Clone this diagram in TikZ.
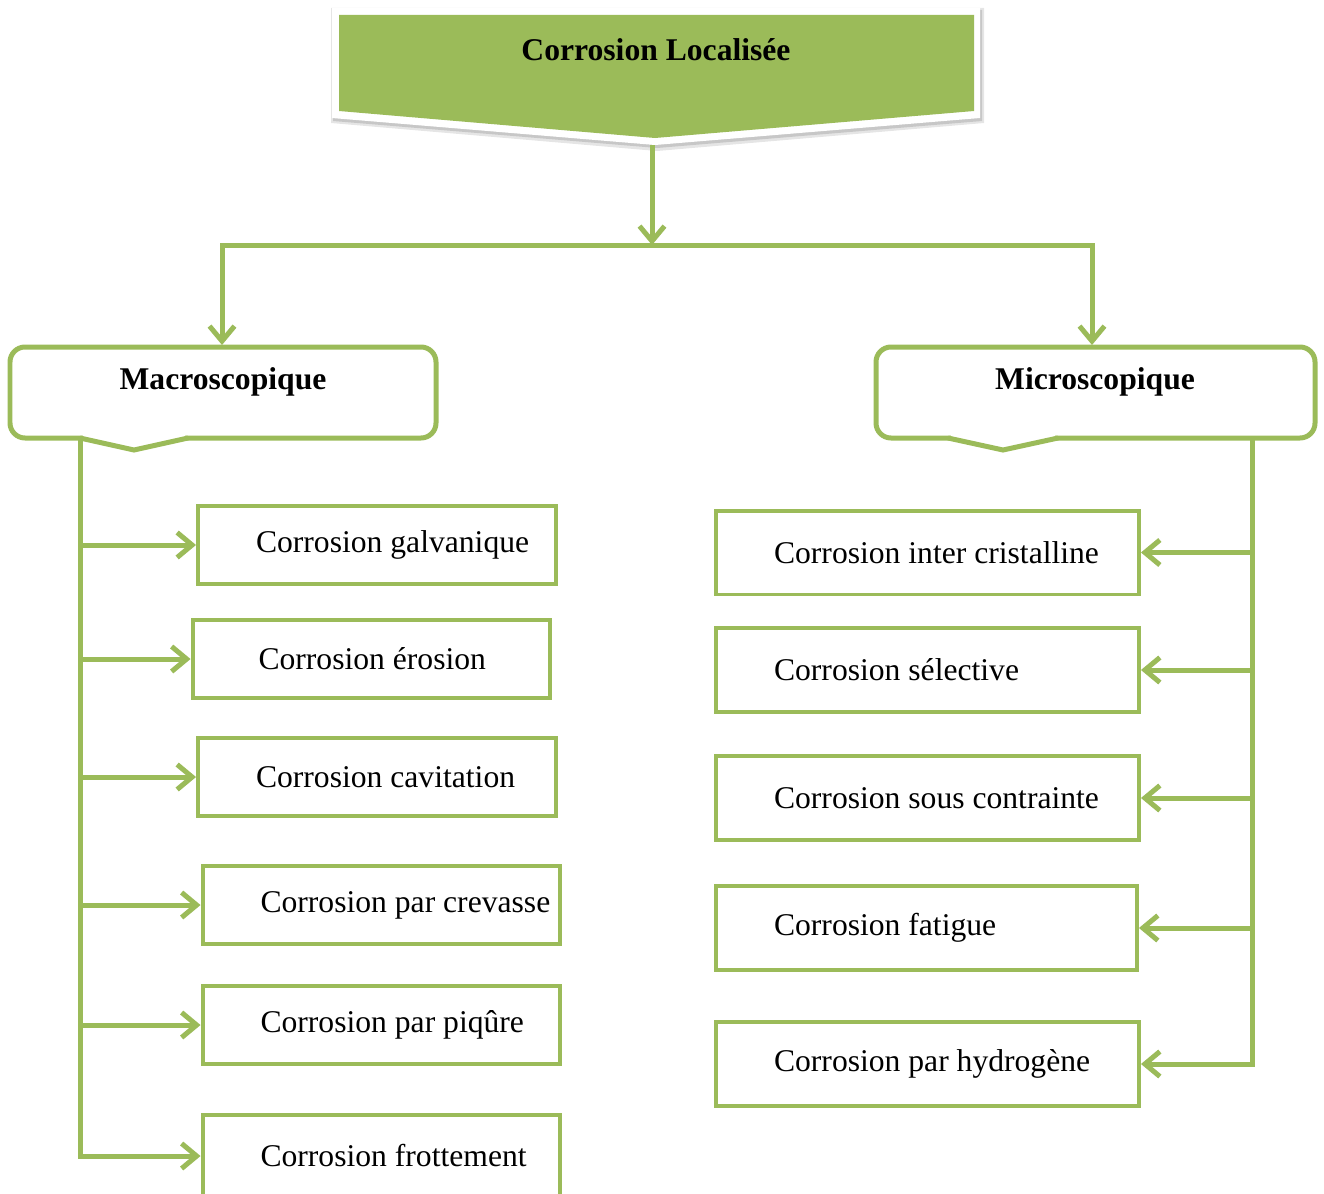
\documentclass[tikz,border=0pt]{standalone}
\usepackage{fontspec}
\setmainfont{Liberation Serif}
\usepackage{tikz}
\usetikzlibrary{arrows.meta}

\definecolor{leafgreen}{HTML}{9BBB59}

\newcommand{\boxtext}[3][1.16cm]{\makebox[#2][l]{\hspace{#1}#3}}

\tikzset{
  link/.style={draw=leafgreen, line width=0.1cm},
  arr/.style={-{Straight Barb[length=0.3cm, width=0.5cm]}},
  leaf/.style={draw=leafgreen, line width=0.08cm, inner sep=0pt, font=\fontsize{18}{22}\selectfont},
  head/.style={font=\fontsize{18}{22}\selectfont\bfseries},
}

\begin{document}
\begin{tikzpicture}[x=0.02cm, y=-0.02cm]

\useasboundingbox (0,0) rectangle (1324,1193);

% draw top banner (shadow, white rim, green body)
\fill[black!10] (331,8) -- (984,8) -- (984,123) -- (657,151) -- (331,123) -- cycle;
\fill[black!22] (333,10) -- (982,10) -- (982,121) -- (657,148) -- (333,121) -- cycle;
\fill[white] (332,8) -- (980,8) -- (980,118) -- (655,145) -- (332,118) -- cycle;
\fill[leafgreen] (339,15) -- (974,15) -- (974,111) -- (655,138) -- (339,111) -- cycle;
\node[head] (loc) at (656,50) {Corrosion Localisée};
\coordinate (loctip) at (652,145);
\coordinate (hub) at (652,245);

% draw header boxes
\draw[link, rounded corners=0.3cm] (10,347) rectangle (436,438);
\fill[white] (83,434) rectangle (185,442);
\draw[link] (80,438) -- (134,450) -- (188,438);
\draw[link, rounded corners=0.3cm] (876,347) rectangle (1315,438);
\fill[white] (951,434) rectangle (1055,442);
\draw[link] (948,438) -- (1003,450) -- (1058,438);
\node[head] (macro) at (223,382) {Macroscopique};
\node[head] (micro) at (1095,382) {Microscopique};
\coordinate (macrotop) at (222,345);
\coordinate (microtop) at (1092,345);
\coordinate (macrofoot) at (80,440);
\coordinate (microfoot) at (1252,440);

% left boxes
\node[leaf, minimum height=1.56cm] (gal) at (377,545) {\boxtext{7.16cm}{Corrosion galvanique}};
\node[leaf, minimum height=1.56cm] (ero) at (371.5,659) {\boxtext[1.32cm]{7.16cm}{Corrosion érosion}};
\node[leaf, minimum height=1.56cm] (cav) at (377,777) {\boxtext{7.16cm}{Corrosion cavitation}};
\node[leaf, minimum height=1.56cm] (cre) at (381.5,905) {\boxtext{7.16cm}{Corrosion par crevasse}};
\node[leaf, minimum height=1.56cm] (piq) at (381.5,1025) {\boxtext{7.16cm}{Corrosion par piqûre}};
\node[leaf, minimum height=1.64cm] (frot) at (381.5,1156) {\boxtext{7.16cm}{Corrosion frottement}};

% right boxes
\node[leaf, minimum height=1.68cm] (inter) at (927.5,552.5) {\boxtext{8.46cm}{Corrosion inter cristalline}};
\node[leaf, minimum height=1.68cm] (sel) at (927.5,670) {\boxtext{8.46cm}{Corrosion sélective}};
\node[leaf, minimum height=1.68cm] (sous) at (927.5,798) {\boxtext{8.46cm}{Corrosion sous contrainte}};
\node[leaf, minimum height=1.68cm] (fat) at (926.5,928) {\boxtext{8.42cm}{Corrosion fatigue}};
\node[leaf, minimum height=1.68cm] (hyd) at (927.5,1064) {\boxtext{8.46cm}{Corrosion par hydrogène}};

% connectors
\draw[link, arr] (loctip) -- (hub);
\draw[link, arr] (hub) -| (macrotop);
\draw[link, arr] (hub) -| (microtop);
\draw[link, arr] (macrofoot) |- (frot.west);
\foreach \n in {gal,ero,cav,cre,piq}
{
    \draw[link, arr] (macrofoot |- \n.west) -- (\n.west);
}
\draw[link, arr] (microfoot) |- (hyd.east);
\foreach \n in {inter,sel,sous,fat}
{
    \draw[link, arr] (microfoot |- \n.east) -- (\n.east);
}

\end{tikzpicture}
\end{document}
